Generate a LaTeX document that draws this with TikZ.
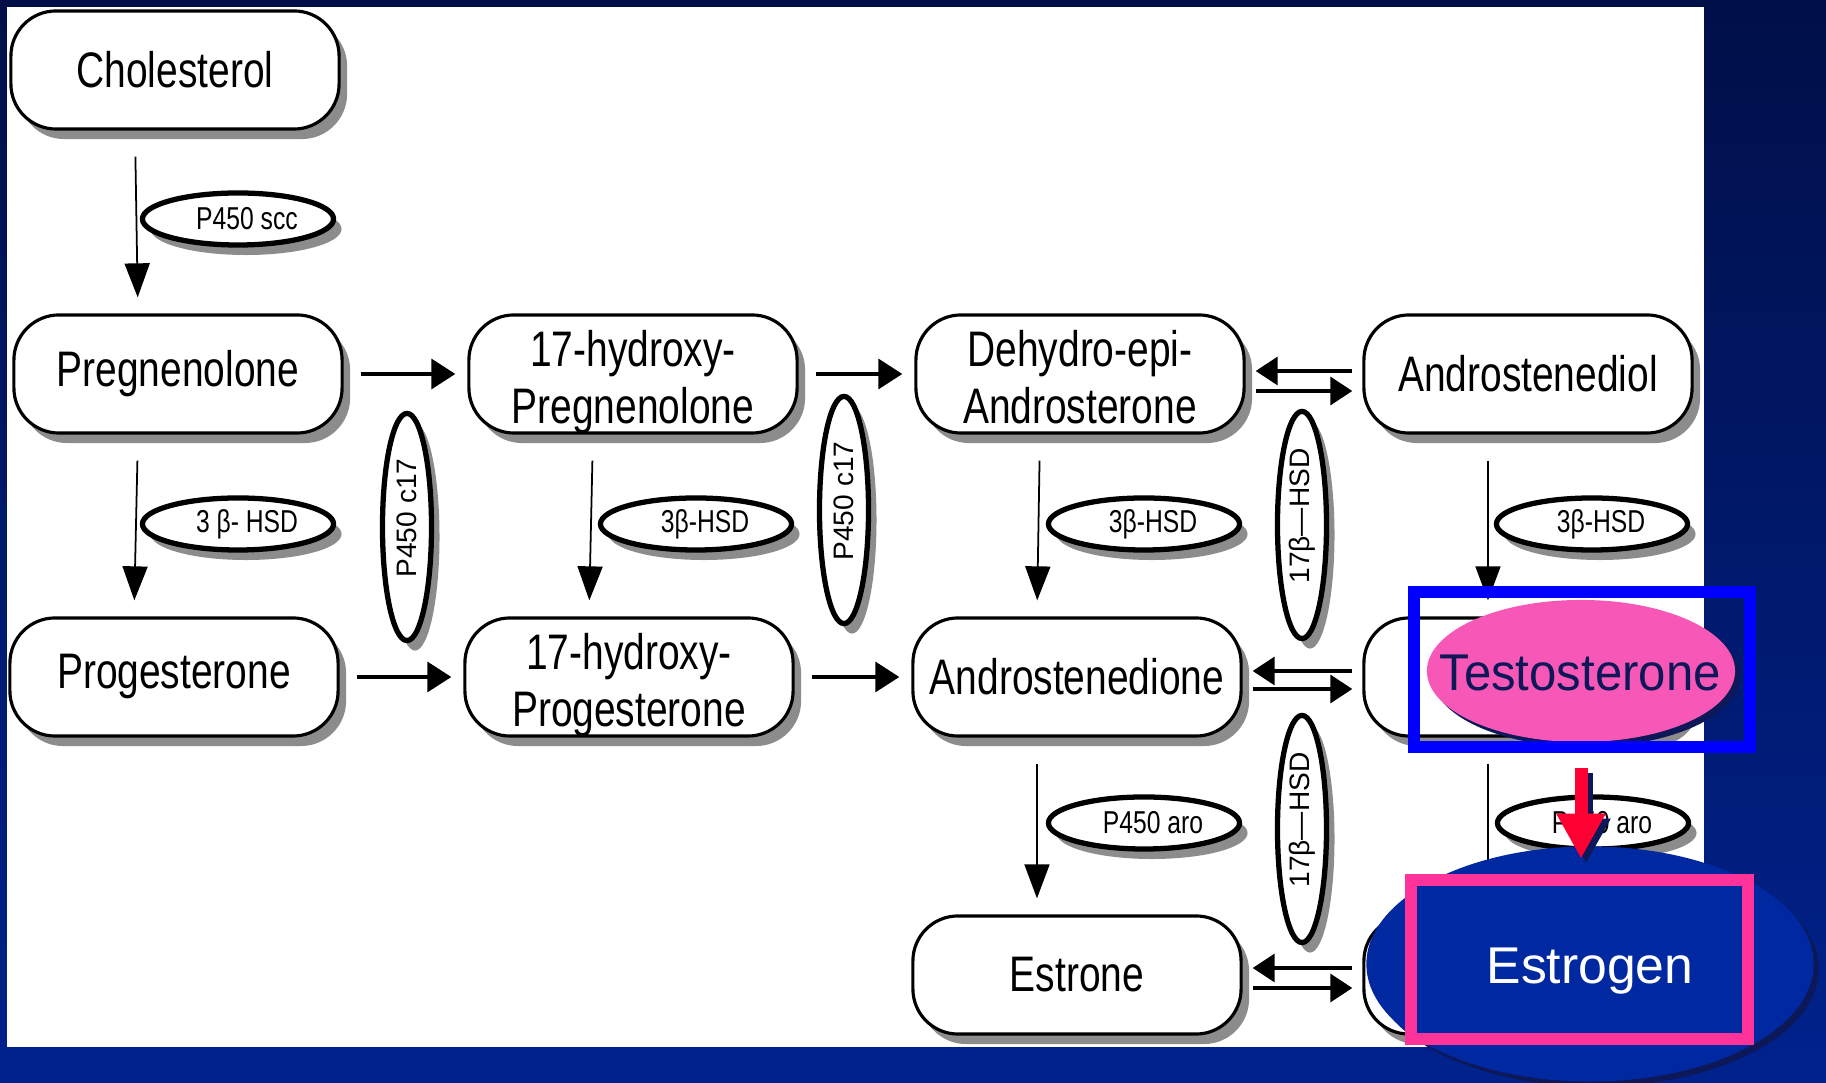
\documentclass[tikz,border=0pt]{standalone}
\usepackage{fontspec}
\setmainfont{Liberation Sans}
\newfontfamily\narrowsf[FakeStretch=0.78]{Liberation Sans}
\newfontfamily\hlsf[FakeStretch=0.95]{Liberation Sans}
\usetikzlibrary{arrows.meta,shapes.geometric,shadows}

\definecolor{bgtop}{RGB}{0,15,72}
\definecolor{bgbot}{RGB}{0,34,140}
\definecolor{estroblue}{RGB}{0,40,160}
\definecolor{hlpink}{RGB}{247,87,183}
\definecolor{hotpink}{RGB}{255,51,153}
\definecolor{hlnavy}{RGB}{12,24,88}
\definecolor{arrowred}{RGB}{255,0,51}

% two lines of a steroid name, set a little lower in the box
\newcommand\twoline[2]{\raisebox{-0.1cm}[\height][\depth]{%
  \begin{tabular}{@{}c@{}}#1\\#2\end{tabular}}}

\tikzset{
  chem/.style={draw, line width=0.9pt, fill=white, rounded corners=0.45cm,
    minimum width=3.28cm, minimum height=1.18cm, inner sep=0pt,
    font=\narrowsf\fontsize{14.2}{16.2}\selectfont,
    drop shadow={shadow xshift=0.08cm, shadow yshift=-0.1cm, fill=black!45, opacity=1}},
  enz/.style={ellipse, draw, line width=1.5pt, fill=white, inner sep=0pt,
    minimum width=1.91cm, minimum height=0.52cm,
    font=\narrowsf\fontsize{9}{10}\selectfont,
    execute at begin node={\hspace*{0.18cm}},
    drop shadow={shadow xshift=0.08cm, shadow yshift=-0.1cm, fill=black!45, opacity=1}},
  venz/.style={enz, rotate=90, minimum width=2.27cm, minimum height=0.49cm,
    execute at begin node={}, font=\normalfont\fontsize{8}{9}\selectfont},
  varr/.style={line width=0.5pt, -{Triangle[width=0.25cm,length=0.34cm]},
    shorten <=0.26cm, shorten >=0.16cm},
  harr/.style={line width=1pt, -{Triangle[width=0.3cm,length=0.24cm]},
    shorten <=0.17cm, shorten >=0.12cm},
  darr/.style={line width=1pt, -{Triangle[width=0.28cm,length=0.22cm]},
    shorten <=0.1cm, shorten >=0.1cm},
  hlarrow/.style={line width=0.13cm, -{Triangle[width=0.46cm,length=0.45cm]},
    shorten <=0.25cm, shorten >=-0.13cm},
}

\begin{document}
\begin{tikzpicture}[x=0.01cm, y=-0.01cm]
    % Slide background and the white panel
    \useasboundingbox (0,0) rectangle (1826,1083);
    \shade [top color=bgtop, bottom color=bgbot] (0,0) rectangle (1826,1083);
    \fill [white] (7,7) rectangle (1704,1047);

    % The steroids
    \node [chem] (chol) at (175,70) {Cholesterol};
    \node [chem] (preg) at (178,374) {Pregnenolone};
    \node [chem] (ohpreg) at (633,374) {\twoline{17-hydroxy-}{Pregnenolone}};
    \node [chem] (dhea) at (1080,374) {\twoline{Dehydro-epi-}{Androsterone}};
    \node [chem] (adiol) at (1528,374) {Androstenediol};
    \node [chem] (prog) at (174,677) {Progesterone};
    \node [chem] (ohprog) at (629,677) {\twoline{17-hydroxy-}{Progesterone}};
    \node [chem] (adione) at (1077,677) {Androstenedione};
    \node [chem] (testo) at (1528,677) {};
    \node [chem] (estrone) at (1077,975) {Estrone};
    \node [chem] (estrad) at (1528,975) {};

    % Downward steps
    \draw [varr] ([xshift=-0.4cm]chol.south) -- ([xshift=-0.4cm]preg.north);
    \draw [varr] ([xshift=-0.4cm]preg.south) -- ([xshift=-0.4cm]prog.north);
    \draw [varr] ([xshift=-0.4cm]ohpreg.south) -- ([xshift=-0.4cm]ohprog.north);
    \draw [varr] ([xshift=-0.4cm]dhea.south) -- ([xshift=-0.4cm]adione.north);
    \draw [varr] ([xshift=-0.4cm]adiol.south) -- ([xshift=-0.4cm]testo.north);
    \draw [varr] ([xshift=-0.4cm]adione.south) -- ([xshift=-0.4cm]estrone.north);
    \draw [varr] ([xshift=-0.4cm]testo.south) -- ([xshift=-0.4cm]estrad.north);

    % Steps to the right
    \draw [harr] (preg) -- (ohpreg);
    \draw [harr] (ohpreg) -- (dhea);
    \draw [harr] (prog) -- (ohprog);
    \draw [harr] (ohprog) -- (adione);

    % Reversible steps
    \draw [darr] ([yshift=0.03cm]adiol.west) -- ([yshift=0.03cm]dhea.east);
    \draw [darr] ([yshift=-0.17cm]dhea.east) -- ([yshift=-0.17cm]adiol.west);
    \draw [darr] ([yshift=0.06cm]testo.west) -- ([yshift=0.06cm]adione.east);
    \draw [darr] ([yshift=-0.12cm]adione.east) -- ([yshift=-0.12cm]testo.west);
    \draw [darr] ([yshift=0.07cm]estrad.west) -- ([yshift=0.07cm]estrone.east);
    \draw [darr] ([yshift=-0.13cm]estrone.east) -- ([yshift=-0.13cm]estrad.west);

    % Enzymes
    \node [enz] (scc) at (238,219) {P450 scc};
    \node [enz] (hsda) at (238,524) {3 β- HSD};
    \node [enz] (hsdb) at (696,524) {3β-HSD};
    \node [enz] (hsdc) at (1144,524) {3β-HSD};
    \node [enz] (hsdd) at (1592,524) {3β-HSD};
    \node [enz] (aroa) at (1144,823) {P450 aro};
    \node [enz] (arob) at (1593,823) {P450 aro};
    \node [venz] (c17a) at (407,527) {P450 c17};
    \node [venz] (c17b) at (844,510) {P450 c17};
    \node [venz] (hsde) at (1302,525) {17β—HSD};
    \node [venz] (hsdf) at (1302,829) {17β—HSD};

    % Highlight on testosterone
    \node [ellipse, fill=hlpink, minimum width=3.08cm, minimum height=1.42cm, inner sep=0pt,
        drop shadow={shadow xshift=0.05cm, shadow yshift=-0.05cm, fill=hlnavy, opacity=1}]
        (testohl) at (1581,671) {};
    \node [inner sep=0pt, text=hlnavy, font=\hlsf\fontsize{14.7}{17}\selectfont]
        (testotxt) at (1580,673) {Testosterone};
    \node [draw=blue, line width=0.12cm, minimum width=3.36cm, minimum height=1.55cm]
        (testobox) at (1582,669.5) {};

    % Highlight on estrogen
    \node [ellipse, fill=estroblue, minimum width=4.47cm, minimum height=2.35cm,
        drop shadow={shadow xshift=0.05cm, shadow yshift=-0.05cm, fill=hlnavy, opacity=1}]
        (estrohl) at (1590,964) {};
    \node [draw=hotpink, fill=estroblue, line width=0.12cm, minimum width=3.37cm,
        minimum height=1.59cm] (estrobox) at (1579.5,959.5) {};
    \node [inner sep=0pt, text=white, font=\fontsize{14.7}{17}\selectfont]
        (estrotxt) at (1590,971) {Estrogen};

    % And the red arrow between them
    \coordinate (arrtip) at (testohl.south |- estrohl.north);
    \draw [hlarrow, hlnavy] ([xshift=0.05cm,yshift=-0.05cm]testohl.south)
        -- ([xshift=0.05cm,yshift=-0.05cm]arrtip);
    \draw [hlarrow, arrowred] (testohl.south) -- (arrtip);
\end{tikzpicture}
\end{document}
